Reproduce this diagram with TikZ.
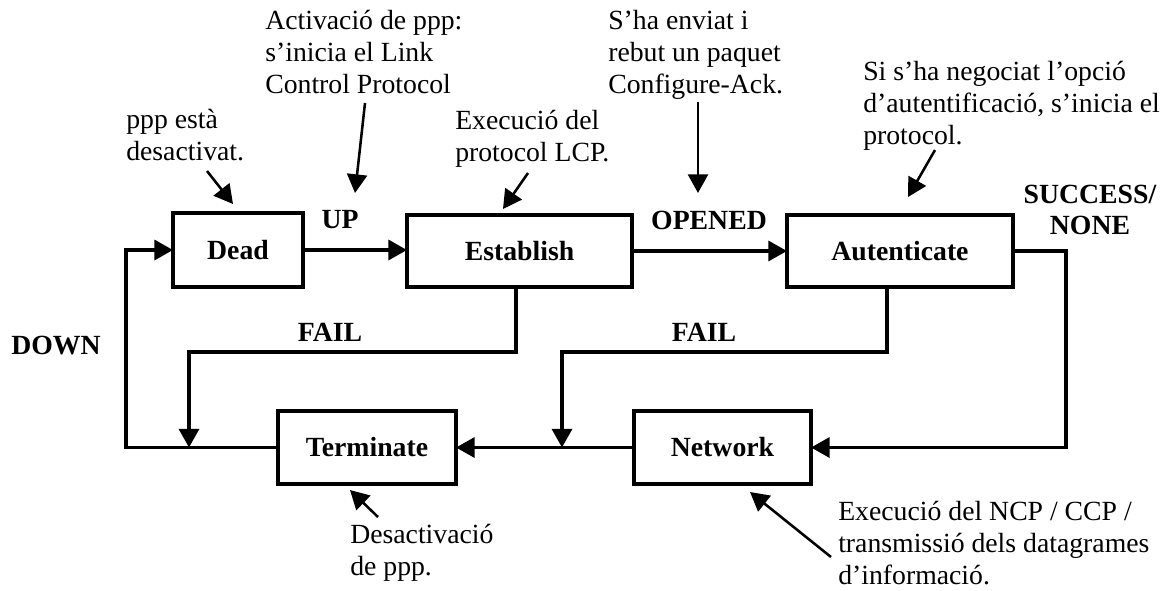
\documentclass[tikz,border=0pt]{standalone}
\usepackage{fontspec}
\setmainfont{Liberation Serif}
\usetikzlibrary{arrows.meta}
\begin{document}
\begin{tikzpicture}[x=0.75pt,y=-0.75pt,
  every node/.style={font=\fontsize{20.8}{23.8}\selectfont},
  state/.style={draw, line width=2.8pt, inner sep=0pt, outer sep=0pt,
    font=\fontsize{20.8}{23.8}\selectfont\bfseries},
  lbl/.style={font=\fontsize{20.8}{23.8}\selectfont\bfseries, inner sep=0pt, align=center},
  note/.style={inner sep=0pt, align=left, anchor=base west},
  flow/.style={line width=2.6pt, line join=miter, -{Triangle[length=14pt,width=15pt]}},
  pointer/.style={line width=1.9pt, -{Triangle[length=14pt,width=15pt]}}]
\useasboundingbox (0,0) rectangle (1168,590);

% states
\node[state, minimum width=97.5pt, minimum height=55pt] (dead) at (238,250) {Dead};
\node[state, minimum width=168.75pt, minimum height=54pt] (establish) at (519.5,251) {Establish};
\node[state, minimum width=169.5pt, minimum height=54pt] (autenticate) at (900,251) {Autenticate};
\node[state, minimum width=133.5pt, minimum height=55pt] (terminate) at (367,447.5) {Terminate};
\node[state, minimum width=132.75pt, minimum height=55pt] (network) at (722.5,447.5) {Network};

% helper coordinates
\coordinate (dl) at (126,447.5);
\coordinate (f1a) at (516,352);
\coordinate (f1b) at (189,352);
\coordinate (f2a) at (887,352);
\coordinate (f2b) at (562,352);
\coordinate (rx) at (1066,250);

% transitions
\draw[flow] (dead.east) -- (dead.east -| establish.west);
\draw[flow] (establish.east) -- (establish.east -| autenticate.west);
\draw[flow] (autenticate.east) -- (autenticate.east -| rx) |- (network.east);
\draw[flow] (network.west) -- (terminate.east);
\draw[flow] (terminate.west) -- (dl) |- (dead.west);
\draw[flow] (f1a |- establish.south) -- (f1a) -- (f1b) -- (f1b |- terminate.west);
\draw[flow] (f2a |- autenticate.south) -- (f2a) -- (f2b) -- (f2b |- network.west);

% transition labels
\node[lbl] (up) at (340,220) {UP};
\node[lbl] (opened) at (709,220) {OPENED};
\node[lbl] (success) at (1090,210) {SUCCESS/\\NONE};
\node[lbl] (fail1) at (330,332) {FAIL};
\node[lbl] (fail2) at (704,332) {FAIL};
\node[lbl] (down) at (56,346) {DOWN};

% annotations (anchor = baseline of the last line)
\node[note] (n1) at (126,160) {ppp està\\desactivat.};
\node[note] (n2) at (265,93) {Activació de ppp:\\s’inicia el Link\\Control Protocol};
\node[note] (n3) at (455,161) {Execució del\\protocol LCP.};
\node[note] (n4) at (608,93) {S’ha enviat i\\rebut un paquet\\Configure-Ack.};
\node[note] (n5) at (863,144) {Si s’ha negociat l’opció\\d’autentificació, s’inicia el\\protocol.};
\node[note] (n6) at (350,575) {Desactivació\\de ppp.};
\node[note] (n7) at (838,584) {Execució del NCP / CCP /\\transmissió dels datagrames\\d’informació.};

% annotation pointers
\coordinate (p1s) at (207,171); \coordinate (p1e) at (233,204);
\coordinate (p2s) at (365,103); \coordinate (p2e) at (355,193);
\coordinate (p3s) at (528,173); \coordinate (p3e) at (503,209);
\coordinate (p4s) at (698,102); \coordinate (p4e) at (698,193);
\coordinate (p5s) at (935,150); \coordinate (p5e) at (908,197);
\coordinate (p6s) at (378,517); \coordinate (p6e) at (350,490);
\coordinate (p7s) at (831,557); \coordinate (p7e) at (750,492);
\draw[pointer] (p1s) -- (p1e);
\draw[pointer] (p2s) -- (p2e);
\draw[pointer] (p3s) -- (p3e);
\draw[pointer] (p4s) -- (p4e);
\draw[pointer] (p5s) -- (p5e);
\draw[pointer] (p6s) -- (p6e);
\draw[pointer] (p7s) -- (p7e);
\end{tikzpicture}
\end{document}
